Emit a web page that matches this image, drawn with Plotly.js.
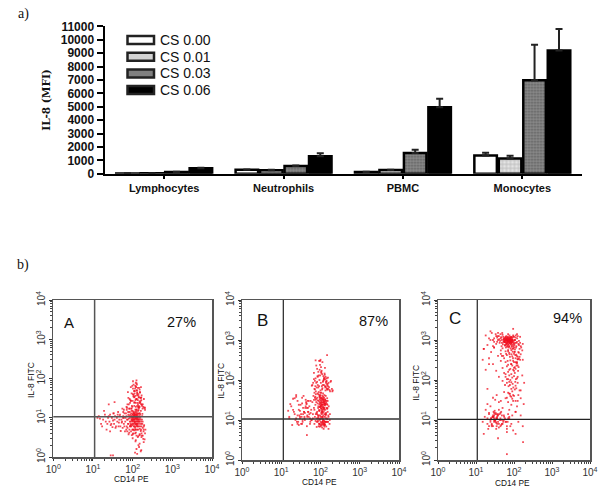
<!DOCTYPE html>
<html><head><meta charset="utf-8">
<script src="https://cdn.plot.ly/plotly-3.0.0.min.js"></script>
<style>html,body{margin:0;padding:0;background:#fff}</style></head>
<body><div id="c" style="width:600px;height:493px"></div>
<script>
const categories=['Lymphocytes','Neutrophils','PBMC','Monocytes'];
const seriesNames=['CS 0.00','CS 0.01','CS 0.03','CS 0.06'];
const cs000=[20,290,130,1360];
const cs001=[25,260,270,1140];
const cs003=[130,570,1540,6980];
const cs006=[400,1310,4950,9200];
const err000=[10,30,20,210];
const err001=[10,30,20,200];
const err003=[20,40,250,2650];
const err006=[40,210,650,1600];
const yTicks=[0,1000,2000,3000,4000,5000,6000,7000,8000,9000,10000,11000];
const yTickLabels=['0','1000','2000','3000','4000','5000','6000','7000','8000','9000','10000','11000'];
const logTicks=[1,10,100,1000,10000];
const logLabels=['10<sup>0</sup>','10<sup>1</sup>','10<sup>2</sup>','10<sup>3</sup>','10<sup>4</sup>'];
const logMinor=[2,3,4,5,6,7,8,9,20,30,40,50,60,70,80,90,200,300,400,500,600,700,800,900,2000,3000,4000,5000,6000,7000,8000,9000];

const xA=[72,85,95,104,112,120,131,142,155,168, 78,88,98,108,116,126,136,148,160,74, 82,92,101,110,118,128,139,151,90,105,
 65,70,76,83,94,100,107,113,122,134, 145,158,175,190,60,68,80,87,97,103, 109,115,121,127,133,140,150,165,180,96,
 99,106,111,117,124,130,137,93,89,84, 102,114,119,125,129,135,144,152,163,172, 91,86,79,75,71,100,108,116,123,138,
 110,118,126,132,104,112,120,128,95,99, 106,114,122,130,103,109,117,125,98,92,
 72,80,88,96,104,112,120,128,136,145, 155,165,178,76,84,93,101,110,118,127, 135,143,152,162,185,205,98,115,130,150,
 105,120,140,160,90,108,125,145,170,195, 120,135,150,112,128,165,130,110,140,122,
 14,18,22,26,30,34,38,42,46,50, 54,58,16,20,24,28,32,36,40,44, 48,52,56,15,27,33,45,25,35,55,
 100,118,135,150,170,190,125,145,165,200, 115,140,160,185,130,205,32,28,120,150,
 60,66,73,81,89,97,105,113,121,129, 137,146,156,167,179,192,62,69,77,85, 93,101,109,117,125,133,141,150,161,174,
 58,64,71,79,87,95,103,111,119,127, 135,143,153,164,176,188,83,91,99,107, 115,123,131,139,147,156,167,180,195,210,
 70,78,86,94,102,110,118,126,134,142, 150,158,168,180,192,205,74,82,90,98, 106,114,122,130,138,146,154,163,172,90, 100,110,120,130,140,150,160,102,116,128,
 13,17,21,25,29,33,37,41,47,53, 57,62,19,23,31,35,43,49,60,27];
const yA=[9,6,11,7,13,5,10,8,12,6, 12,8,5,10,6,14,7,11,4.6,5.5, 4.2,13,8.5,4.8,9.5,6.5,12.5,5.2,7,14,
 8,11,7,5,15,12,9,7.5,11,13, 6,9,7,5,10,13,9.5,6.2,8,4, 11.5,5.5,8,10,6,9,8,7,5.5,10,
 6.5,8,12,10,7,12,9,9,11,14, 5,9,5,12,8,6,10,7,5,9, 4.5,10,7,9,6,15,13,14,16,15,
 9,11,9,8,10,7,10,11,8.5,12, 6,8,7,10,9,11,12,6,10,6,
 18,22,28,20,35,25,19,30,22,18, 24,33,17,45,30,17,40,24,36,50, 28,20,45,60,19,16,65,55,38,26,
 70,62,40,32,27,48,90,33,22,18, 78,58,52,42,70,28,44,34,36,30,
 11,9,5,8,10,7,6,12,9,4.6, 8,11,7,12,10,6.5,8.5,11,10,6, 12,9,5.5,9.5,4.5,13,7.5,22,25,17,
 3,2.5,3.2,2.2,3.5,2.4,1.6,1.8,1.5,2.8, 1.3,2,1.4,2.9,1.2,4,1.1,1.1,2.7,3.8,
 7,10,4.5,11,6,9,5,12,4.2,9, 5,13,10,4,8,6,13,5,14,8, 17,3.8,6,16,3.5,7,16,3.6,15,11,
 14,4.5,16,3.8,12,3.6,13,8,6.8,16, 11,8,13,8,12.5,4.5,17,6.6,7,11, 4,12.5,5,3.4,9,6,3.2,3.5,6.5,5,
 19,32,24,42,55,20,28,75,24,33, 19,26,37,22,30,18,22,17,60,19, 38,48,60,42,19,58,44,22,20,27, 27,33,24,20,18,24,32,85,66,50,
 10,6,8,11,7,13,5.5,8,11,7.5, 10,6,15,7,5.8,9,14,6,16,12];

const xB=[62,70,78,86,94,102,110,118,126,134, 142,150,160,172,66,74,82,90,98,106, 114,122,130,138,146,158,68,76,84,92,
 100,108,116,124,132,140,152,72,80,88, 96,104,112,120,128,136,148,64,85,93, 101,109,117,125,133,97,105,113,121,129,
 95,103,111,119,127,99,107,115,123,131, 91,87,83,79,75,110,100,120,105,115, 95,125,135,108,118,102,112,90,128,98,
 70,85,100,115,130,145,160,175,195,60, 75,90,105,120,135,150,165,185,65,80, 95,110,125,140,155,170,72,88,103,118,
 133,148,180,200,68,82,97,112,127,142, 78,92,107,122,137,155,205,85,100,130,
 60,70,85,100,115,130,150,75,90,110, 125,140,95,120,105,85,115,147,98,75,
 15,18,22,26,30,35,40,45,50,55, 17,20,24,28,33,38,43,48,52,58, 16,21,25,29,34,39,44,49,54,19,
 23,27,31,36,41,46,28,32,37,42, 24,34,47,30,26,22,39,45,56,35,
 110,130,95,150,170,120,140,45,80,160,
 64,72,80,88,96,104,112,120,128,136, 144,152,162,174,68,76,84,92,100,108, 116,124,132,140,148,156,70,78,86,94,
 102,110,118,126,134,142,150,74,82,90, 98,106,114,122,130,138,96,104,112,120, 92,100,108,116,124,132,88,96,104,112, 118,126,94,102,110,98,106,114,122,100,
 62,72,82,92,102,112,122,132,142,152, 68,78,88,98,108,118,128,138,148,158, 74,84,94,104,114,124,134,144,76,110,
 16,20,24,28,32,36,40,44,48,52, 56,26,30,34,38,42,46,50,54,58];
const yB=[28,18,34,13,42,22,16,38,26,14, 30,20,12,10,40,24,16,30,22,35, 12,19,32,15,25,13,20,44,26,17,
 48,28,21,36,18,27,16,12,11,22, 33,15,40,24,29,13,19,14,31,25, 23,17,32,20,26,37,30,27,16,23,
 21,19,24,28,14,26,22,35,18,25, 13,20,36,15,32,12,9,8.5,11,10, 8,9.5,11,7.5,10,12,9,11,8,10.5,
 60,75,55,90,70,62,85,52,60,72, 110,130,150,100,120,58,66,95,85,65, 180,140,115,82,70,56,95,160,210,125,
 105,75,90,52,150,190,240,280,145,92, 230,300,170,110,68,115,55,120,320,200,
 10,8,9,7.5,11,9,10.5,9.5,7,8, 6.8,9,10,7.5,8.5,11,9,420,300,310,
 17,22,14,30,12,10,15,20,12,9, 25,34,42,18,12,16,28,20,14,10, 11,16,9,13,36,11,25,16,8,7.5,
 10,9,24,14,20,12,7.5,8,40,32, 38,8,30,11,13,35,12,7,15,9,
 6.5,7.5,6.8,9,8,6,6.9,4.2,6.7,6,
 11,36,9,44,17,48,9,30,12,40, 11,30,22,14,32,14,46,8,42,14, 46,8,33,9,35,9,48,28,9.5,38,
 27,19,13,42,30,20,24,38,14,50, 13,36,32,20,9,14,28,20,24,33, 18,31,33,21,26,24,12,40,24,18, 8,7.5,8,7,16,21,25,15,28,35,
 75,58,90,70,85,62,75,65,95,80, 105,85,65,130,70,95,135,88,58,60, 70,125,100,160,75,105,55,110,52,58,
 12,18,11,24,14,20,10,26,16,22, 30,8,17,26,16,22,13,30,11,18];

const xC=[40,45,50,55,60,65,70,75,80,85, 90,95,100,42,47,52,57,62,67,72, 77,82,87,92,97,38,48,53,58,63, 68,73,78,83,88,93,44,50,56,61,
 66,71,76,81,86,91,59,64,69,74, 54,49,60,66,72,78,84,70,65,58, 62,75,68,55,80,73,63,85,77,67,
 18,22,26,30,34,20,24,28,33,36, 16,25,30,105,115,125,135,150,110,120, 130,140,165,100,95,145,45,52,60,70,
 45,55,65,75,85,95,105,115,125,60, 70,80,90,100,110,120,130,50,65,75, 85,95,105,115,135,55,70,80,90,100,
 110,125,145,60,75,85,95,105,120,70, 80,90,100,112,128,65,78,92,108,125, 150,170,45,38,30,22,18,15,58,72,
 85,96,110,125,50,65,78,90,105,120, 165,80,70,95,60,115,140,85,100,75, 130,90,65,110,85,75,150,185,125,70,
 15,17,20,22,25,28,30,32,35,38, 40,45,50,55,60,70,80,90,18,24, 27,29,33,36,42,48,54,65,75,16, 21,26,31,37,44,58,85,25,30,35,
 28,32,30,26,34,38,46,52,22,40, 24,28,36,42,30,33,20,44,68,34, 75,95,120,150,180,60,45,35,110,85, 55,40,70,28,130,100,50,32,95,65,
 150,110,75,20,170,65,173,65,38,110,
 36,41,46,51,56,61,66,71,76,81, 86,91,96,101,106,111,116,121,37,43, 48,53,58,63,68,73,78,83,88,93, 98,103,108,113,60,65,70,75,80,85,
 55,62,69,76,83,90,58,66,74,82, 57,64,71,78,85,92,99,106,72,88, 30,34,38,24,28,120,135,145,155,170,
 62,70,78,86,94,102,110,118,126,134, 68,76,84,92,100,108,116,124,132,140,
 16,22,28,34,40,48, 20,24,28,32,36,40,44,50,26,30, 34,38,46,54,62,22,31,29,35,48];
const yC=[1250,1100,1350,950,1150,800,1400,1000,900,1200, 1050,1300,800,850,700,1200,900,1000,1150,850, 1100,780,950,1000,700,1000,850,1050,750,1250, 980,1050,900,1120,850,760,1400,620,880,1020,
 920,760,980,1180,720,900,960,850,1080,940, 1020,1500,1200,720,650,850,1020,1000,1060,880, 780,680,960,1100,940,1120,820,930,1050,860,
 1300,1100,1500,900,1250,750,1650,1000,1400,1150, 600,500,650,1000,850,1250,950,700,1150,1400, 800,600,550,1200,1900,850,450,400,520,560,
 300,350,420,480,560,620,510,430,380,280, 240,310,390,450,350,280,500,200,220,180, 250,300,210,270,340,150,160,190,230,170,
 190,230,320,120,130,140,180,150,260,105, 100,115,125,105,170,85,75,80,90,120, 440,320,550,400,650,250,180,320,75,70,
 60,65,72,85,95,105,45,52,58,110, 130,40,48,42,140,62,55,38,200,90, 42,34,36,30,88,46,35,85,30,28,
 9,12,8,15,11,7,13,10,14,9, 6.5,10,8,12,9,11,7,13,18,22, 12,16,9,11,14,8,10,7,12,4.5, 6,7.5,17,13,15,11,8,11,9,7,
 12,14,10,8,11,13,16,9,14,18, 10,12,8,10,11,15,25,7,9,6, 18,30,22,13,25,35,30,42,16,24, 50,28,14,36,9,40,20,32,5.5,6,
 55,16,11,60,7,1.4,2.8,5,3.5,4.5,
 900,1050,1180,780,1080,650,1120,780,1180,1020, 1150,1000,1220,650,1000,1300,700,1100,1250,950, 1000,900,1100,1000,880,950,830,980,1000,600, 950,750,850,650,880,950,1010,870,970,860,
 920,1100,1200,1300,880,1150,720,680,700,620, 1000,1020,940,1040,800,900,850,580,990,680, 1100,800,1500,1000,700,900,750,1200,650,800,
 450,520,380,440,350,500,280,400,330,480, 300,440,250,510,280,420,230,330,210,380,
 600,350,250,170,120,400, 11,9,13,10,12,8,11,10,7,15, 8.5,14,7.5,13,9,7,9.5,12,11,13];

function px(l,r){return [l/600,r/600];}
function py(t,b){return [1-b/493,1-t/493];}
const colors=['#ffffff','#d4d4d4','#808080','#000000'];
const patterns=[null,{shape:'+',fgcolor:'#bbbbbb',bgcolor:'#e4e4e4',size:4,solidity:0.4},{shape:'.',fgcolor:'#5e5e5e',bgcolor:'#8c8c8c',size:3,solidity:0.4},null];
const vals=[cs000,cs001,cs003,cs006], errs=[err000,err001,err003,err006];
const traces=seriesNames.map((n,i)=>{
  const m={color:colors[i],line:{color:'#000',width:2.5}};
  if(patterns[i]) m.pattern=patterns[i];
  return {type:'bar',name:n,x:categories,y:vals[i],marker:m,showlegend:false,
    error_y:{type:'data',array:errs[i],arrayminus:errs[i].map(()=>0),symmetric:false,color:'#222',thickness:2,width:3.5},xaxis:'x',yaxis:'y'};
});
[[xA,yA,'x2','y2'],[xB,yB,'x3','y3'],[xC,yC,'x4','y4']].forEach(p=>{
  traces.push({type:'scatter',mode:'markers',x:p[0],y:p[1],xaxis:p[2],yaxis:p[3],showlegend:false,
    marker:{color:'#f01020',symbol:'square',size:1.8,opacity:0.75,line:{width:0}}});
});
function logX(dom,anchor){return {type:'log',domain:dom,anchor:anchor,range:[0,4],tickmode:'array',tickvals:logTicks,ticktext:logLabels,
  ticks:'outside',ticklen:2.5,tickwidth:1,tickcolor:'#333',showline:true,mirror:true,linecolor:'#555',linewidth:1.5,showgrid:false,zeroline:false,
  tickfont:{family:'Liberation Sans',size:10,color:'#333'},
  minor:{tickmode:'array',tickvals:logMinor,ticks:'outside',ticklen:2,tickwidth:1,tickcolor:'#444',showgrid:false}};}
function logY(dom,anchor){return {type:'log',domain:dom,anchor:anchor,range:[0,4],tickmode:'array',tickvals:logTicks,ticktext:logLabels,tickangle:-90,
  ticks:'outside',ticklen:2.5,tickwidth:1,tickcolor:'#333',showline:true,mirror:true,linecolor:'#555',linewidth:1.5,showgrid:false,zeroline:false,
  tickfont:{family:'Liberation Sans',size:10,color:'#333'},
  minor:{tickmode:'array',tickvals:logMinor,ticks:'outside',ticklen:2,tickwidth:1,tickcolor:'#444',showgrid:false}};}
const shapes=[], annotations=[];
function quad(xr,yr,xv,yv,c,w){
  shapes.push({type:'line',xref:xr,yref:yr+' domain',x0:xv,x1:xv,y0:0,y1:1,line:{color:c,width:w}});
  shapes.push({type:'line',xref:xr+' domain',yref:yr,x0:0,x1:1,y0:yv,y1:yv,line:{color:c,width:w}});
}
quad('x2','y2',11,10.6,'#555',1.5);
quad('x3','y3',11.3,10.6,'#333',1.3);
quad('x4','y4',10.8,10.4,'#222',1.2);
function txt(x,y,t,size,fam,anchor,angle){annotations.push({xref:'paper',yref:'paper',x:x/600,y:1-y/493,text:t,showarrow:false,xanchor:anchor||'left',yanchor:'middle',textangle:angle||0,font:{family:fam,size:size,color:'#111'}});}
txt(16,14,'a)',14,'Liberation Serif');
txt(15,265,'b)',14,'Liberation Serif');
txt(62,322,'A',15,'Liberation Sans');
txt(165,322,'27%',14.5,'Liberation Sans');
txt(255,320,'B',17,'Liberation Sans');
txt(357,321,'87%',14.5,'Liberation Sans');
txt(447,318,'C',17,'Liberation Sans');
txt(551,318,'94%',14.5,'Liberation Sans');
[[31,380],[220.7,381],[415.7,383]].forEach(p=>txt(p[0],p[1],'IL-8 FITC',8.5,'Liberation Sans','center',-90));
[[131,479],[319,482],[512,483]].forEach(p=>txt(p[0],p[1],'CD14 PE',8.3,'Liberation Sans','center'));
seriesNames.forEach((n,i)=>{
  const yc=40+i*16.7;
  shapes.push({type:'rect',xref:'paper',yref:'paper',x0:127.5/600,x1:154/600,y0:1-(yc+4)/493,y1:1-(yc-4)/493,fillcolor:colors[i],line:{color:'#222',width:2.5}});
  txt(157.5,yc,n,14,'Liberation Sans');
});
const layout={width:600,height:493,margin:{l:0,r:0,t:0,b:0},paper_bgcolor:'#fff',plot_bgcolor:'#fff',showlegend:false,
  barmode:'group',bargap:0.18,bargroupgap:0.08,shapes:shapes,annotations:annotations,
  xaxis:{domain:px(104.5,582),anchor:'y',range:[-0.5,3.5],ticks:'outside',ticklen:3,tickwidth:2,tickcolor:'#000',showline:true,linecolor:'#000',linewidth:2,showgrid:false,zeroline:false,
    tickfont:{family:'Liberation Sans',size:11,color:'#111',weight:'bold'}},
  yaxis:{domain:py(26.3,173.7),anchor:'x',range:[0,11000],tickmode:'array',tickvals:yTicks,ticktext:yTickLabels,ticks:'outside',ticklen:6,tickwidth:2,tickcolor:'#000',showline:true,linecolor:'#000',linewidth:2,showgrid:false,zeroline:false,
    tickfont:{family:'Liberation Sans',size:12,color:'#111',weight:'bold'},
    title:{text:'IL-8 (MFI)',standoff:8,font:{family:'DejaVu Serif',size:10.5,color:'#111',weight:'bold'}}},
  xaxis2:logX(px(53.3,212),'y2'),yaxis2:logY(py(300,457),'x2'),
  xaxis3:logX(px(242,399),'y3'),yaxis3:logY(py(300,460),'x3'),
  xaxis4:logX(px(438,590),'y4'),yaxis4:logY(py(300,460),'x4')};
Plotly.newPlot('c',traces,layout,{displayModeBar:false,staticPlot:true});
</script></body></html>
